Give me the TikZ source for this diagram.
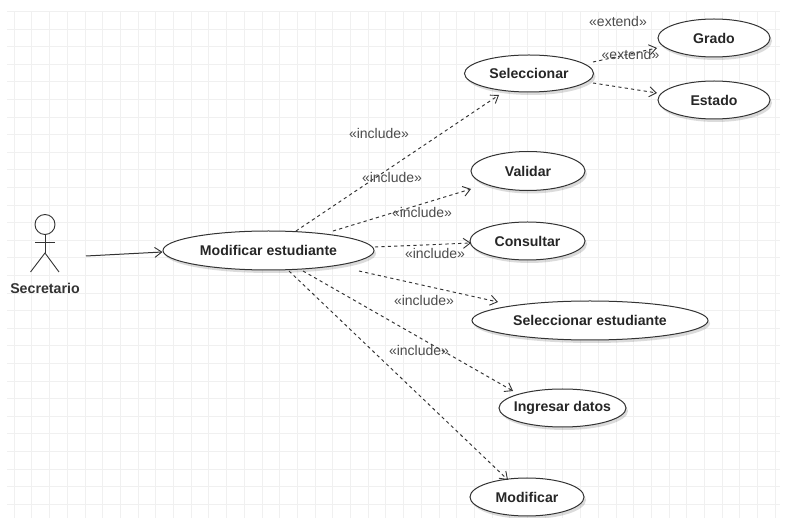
\documentclass[tikz,border=0pt]{standalone}
\usepackage{fontspec}
\setmainfont{Liberation Sans}
\usetikzlibrary{shapes.geometric,arrows.meta,shadows}
\definecolor{gridc}{gray}{0.94}
\definecolor{inkc}{gray}{0.2}
\definecolor{labc}{gray}{0.3}
\tikzset{
  x=1pt,y=-1pt,
  usecase/.style={ellipse,draw=inkc,line width=1pt,fill=white,inner xsep=-30pt,inner ysep=-12pt,text=black!85,
    font=\fontsize{14.1}{16}\selectfont\bfseries,
    drop shadow={shadow xshift=2pt,shadow yshift=-3pt,opacity=0.14,fill=black}},
  tip/.style={-{Straight Barb[length=7pt,width=10pt,line width=0.9pt]}},
  dep/.style={tip,dash pattern=on 3.2pt off 3.2pt,draw=inkc,line width=0.95pt},
  stereo/.style={font=\fontsize{14}{16}\selectfont,text=labc,inner sep=0pt},
  gridl/.style={draw=gridc,line width=0.6pt},
  limb/.style={draw=inkc,line width=0.9pt}
}
\begin{document}
\begin{tikzpicture}
\useasboundingbox (0,0) rectangle (785,518);
\fill[white] (0,0) rectangle (785,518);
\foreach \i in {0,...,43} \draw[gridl] ({14+17.7*\i},12) -- ({14+17.7*\i},518);
\foreach \j in {0,...,28} \draw[gridl] (7,{11.4+17.6*\j}) -- (780,{11.4+17.6*\j});

\node[usecase,minimum width=211pt,minimum height=39pt] (me) at (268.5,250.5) {Modificar estudiante};
\node[usecase,minimum width=129pt,minimum height=37pt] (sel) at (529,73.5) {Seleccionar};
\node[usecase,minimum width=112pt,minimum height=38pt] (gra) at (714,38) {Grado};
\node[usecase,minimum width=112pt,minimum height=38pt] (est) at (714,100) {Estado};
\node[usecase,minimum width=114pt,minimum height=39pt] (val) at (528,171) {Validar};
\node[usecase,minimum width=115pt,minimum height=38pt] (con) at (527.5,241) {Consultar};
\node[usecase,minimum width=236pt,minimum height=39pt] (se) at (590,320.5) {Seleccionar estudiante};
\node[usecase,minimum width=127pt,minimum height=38pt] (ing) at (562.5,408) {Ingresar datos};
\node[usecase,minimum width=114pt,minimum height=38pt] (mod) at (527,497) {Modificar};

% actor
\node[circle,draw=inkc,line width=0.9pt,minimum size=20pt,inner sep=0pt] (head) at (45,224.5) {};
\coordinate (hip) at (45,253);
\coordinate (larm) at (35,242);
\coordinate (rarm) at (55,242);
\coordinate (lfoot) at (30.5,272);
\coordinate (rfoot) at (59,272);
\draw[limb] (head.south) -- (hip);
\draw[limb] (larm) -- (rarm);
\draw[limb] (lfoot) -- (hip) -- (rfoot);
\node[inner sep=0pt,text=black!80,font=\fontsize{14.2}{16}\selectfont\bfseries] (actorlab) at (45,288) {Secretario};
\coordinate (actorout) at (86,256);
\draw[tip,draw=inkc,line width=1pt] (actorout) -- ([shift={(0,1.5)}]me.west);

% dependencies
\draw[dep] ([shift={(27.5,-19.5)}]me.center) -- ([shift={(-30,21.5)}]sel.center);
\draw[dep] ([shift={(64.5,-19.5)}]me.center) -- ([shift={(-57,18)}]val.center);
\draw[dep] ([shift={(106.5,-3.5)}]me.center) -- ([shift={(-56.5,2)}]con.center);
\draw[dep] ([shift={(90.5,20.5)}]me.center) -- ([shift={(-92,-18.5)}]se.center);
\draw[dep] ([shift={(34.5,20.5)}]me.center) -- ([shift={(-49.5,-17)}]ing.center);
\draw[dep] ([shift={(20.5,20.5)}]me.center) -- ([shift={(-19,-17)}]mod.center);
\draw[dep] ([shift={(64,-11.5)}]sel.center) -- ([shift={(-57,10)}]gra.center);
\draw[dep] ([shift={(64,9.5)}]sel.center) -- ([shift={(-57,-7)}]est.center);

% labels
\node[stereo] (l1) at (379,134) {«include»};
\node[stereo] (l2) at (392,177) {«include»};
\node[stereo] (l3) at (422,212) {«include»};
\node[stereo] (l4) at (435,253) {«include»};
\node[stereo] (l5) at (424,300) {«include»};
\node[stereo] (l6) at (419,350) {«include»};
\node[stereo] (l7) at (618,22) {«extend»};
\node[stereo] (l8) at (630.5,55) {«extend»};
\end{tikzpicture}
\end{document}
